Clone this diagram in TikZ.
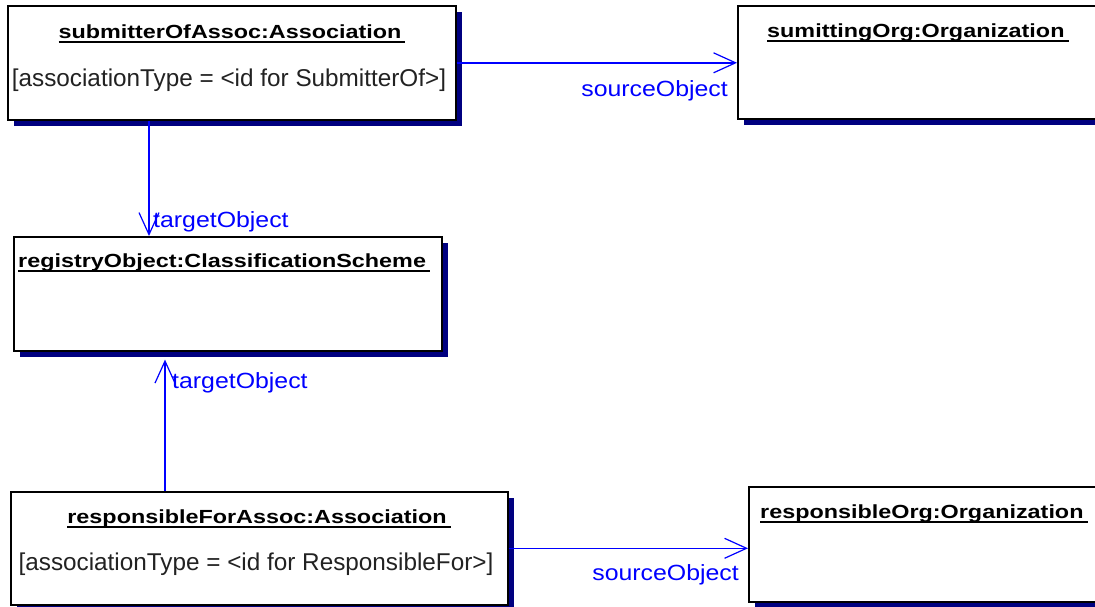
\documentclass[tikz,border=0pt]{standalone}
\usepackage{fontspec}
\setmainfont{Liberation Sans}
\newfontfamily\regf{Liberation Sans}
\newfontfamily\labf[FakeStretch=1.13]{Liberation Sans}
\newfontfamily\boldf[FakeStretch=1.23]{Liberation Sans}
\usetikzlibrary{arrows.meta,shadows}
\definecolor{shadownavy}{HTML}{000080}
\definecolor{linkblue}{HTML}{0000FF}
\definecolor{attrgray}{HTML}{222222}
\newsavebox\ulsave
\newcommand\ulbox[1]{\sbox\ulsave{#1\kern4pt}\rlap{\rule[-4.5pt]{\wd\ulsave}{1.3pt}}\usebox\ulsave}
\tikzset{
  objbox/.style={draw=black, line width=1.6pt, fill=white, inner sep=0pt, anchor=north west,
    drop shadow={shadow xshift=6pt, shadow yshift=-6pt, fill=shadownavy, opacity=1}},
  titletext/.style={inner sep=0pt, font=\boldf\bfseries\fontsize{19}{22}\selectfont, text=black},
  attrtext/.style={inner sep=0pt, font=\regf\fontsize{24.3}{28}\selectfont, text=attrgray},
  rolelabel/.style={inner sep=0pt, font=\labf\fontsize{22}{26}\selectfont, text=linkblue},
  conn/.style={draw=linkblue, line width=1.5pt, -{Straight Barb[length=22pt,width=20pt,line width=1.2pt]}}
}
\begin{document}
\begin{tikzpicture}[x=1pt,y=-1pt]
\useasboundingbox (0,0) rectangle (1095,606);
\clip (0,0) rectangle (1095,606);
\fill[white] (0,0) rectangle (1095,606);

% boxes
\node[objbox, minimum width=448pt, minimum height=114pt] (A) at (7,5) {};
\node[objbox, minimum width=400pt, minimum height=113pt] (B) at (737,5) {};
\node[objbox, minimum width=428pt, minimum height=114pt] (C) at (13,236) {};
\node[objbox, minimum width=497pt, minimum height=113pt] (D) at (10,491) {};
\node[objbox, minimum width=400pt, minimum height=115pt] (E) at (748,486) {};

% texts in boxes
\node[titletext, anchor=base] (Atitle) at (232,38) {\ulbox{submitterOfAssoc:Association}};
\node[attrtext, anchor=base] (Aattr) at (229,86) {[associationType = <id for SubmitterOf>]};
\node[titletext, anchor=base west] (Btitle) at (767,37) {\ulbox{sumittingOrg:Organization}};
\node[titletext, anchor=base west] (Ctitle) at (18,267) {\ulbox{registryObject:ClassificationScheme}};
\node[titletext, anchor=base] (Dtitle) at (259,523) {\ulbox{responsibleForAssoc:Association}};
\node[attrtext, anchor=base] (Dattr) at (256,570) {[associationType = <id for ResponsibleFor>]};
\node[titletext, anchor=base west] (Etitle) at (760,518) {\ulbox{responsibleOrg:Organization}};

% connectors
\draw[conn] (A.east) -- (A.east -| B.west);
\draw[conn] (D.east) -- (D.east -| E.west);
\draw[conn] ([xshift=142pt]A.south west) -- ([xshift=136pt]C.north west);
\draw[conn] ([xshift=155pt]D.north west) -- ([xshift=152pt,yshift=-8pt]C.south west);

% role labels
\node[rolelabel, anchor=base east] (lab1) at (728,96) {sourceObject};
\node[rolelabel, anchor=base west] (lab2) at (153,227) {targetObject};
\node[rolelabel, anchor=base west] (lab3) at (172,388) {targetObject};
\node[rolelabel, anchor=base east] (lab4) at (739,580) {sourceObject};
\end{tikzpicture}
\end{document}
